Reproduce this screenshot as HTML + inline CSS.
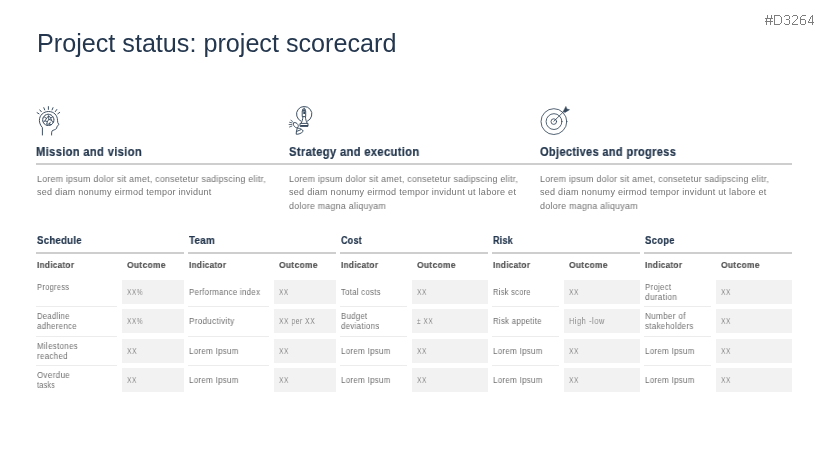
<!DOCTYPE html>
<html><head><meta charset='utf-8'><style>html,body{margin:0;padding:0;background:#fff}
body{width:829px;height:466px;position:relative;overflow:hidden;font-family:"Liberation Sans",sans-serif}
.t{position:absolute;white-space:nowrap;line-height:1;transform-origin:0 0;will-change:transform}
.rule{position:absolute;background:#cecece}
.cell{position:absolute;background:#f2f2f2}
.sep{position:absolute;background:#ececec}
svg{position:absolute;left:0;top:0}
</style></head><body>
<div class='rule' style='left:36px;top:252px;width:148px;height:2px'></div>
<div class='cell' style='left:122px;top:280px;width:62px;height:24px'></div>
<div class='sep' style='left:36px;top:306px;width:81px;height:1px'></div>
<div class='cell' style='left:122px;top:309px;width:62px;height:24px'></div>
<div class='sep' style='left:36px;top:336px;width:81px;height:1px'></div>
<div class='cell' style='left:122px;top:338.7px;width:62px;height:24px'></div>
<div class='sep' style='left:36px;top:365px;width:81px;height:1px'></div>
<div class='cell' style='left:122px;top:368.2px;width:62px;height:24px'></div>
<div class='rule' style='left:188px;top:252px;width:148px;height:2px'></div>
<div class='cell' style='left:274px;top:280px;width:62px;height:24px'></div>
<div class='sep' style='left:188px;top:306px;width:81px;height:1px'></div>
<div class='cell' style='left:274px;top:309px;width:62px;height:24px'></div>
<div class='sep' style='left:188px;top:336px;width:81px;height:1px'></div>
<div class='cell' style='left:274px;top:338.7px;width:62px;height:24px'></div>
<div class='sep' style='left:188px;top:365px;width:81px;height:1px'></div>
<div class='cell' style='left:274px;top:368.2px;width:62px;height:24px'></div>
<div class='rule' style='left:340px;top:252px;width:148px;height:2px'></div>
<div class='cell' style='left:412px;top:280px;width:76px;height:24px'></div>
<div class='sep' style='left:340px;top:306px;width:67px;height:1px'></div>
<div class='cell' style='left:412px;top:309px;width:76px;height:24px'></div>
<div class='sep' style='left:340px;top:336px;width:67px;height:1px'></div>
<div class='cell' style='left:412px;top:338.7px;width:76px;height:24px'></div>
<div class='sep' style='left:340px;top:365px;width:67px;height:1px'></div>
<div class='cell' style='left:412px;top:368.2px;width:76px;height:24px'></div>
<div class='rule' style='left:492px;top:252px;width:148px;height:2px'></div>
<div class='cell' style='left:564px;top:280px;width:76px;height:24px'></div>
<div class='sep' style='left:492px;top:306px;width:67px;height:1px'></div>
<div class='cell' style='left:564px;top:309px;width:76px;height:24px'></div>
<div class='sep' style='left:492px;top:336px;width:67px;height:1px'></div>
<div class='cell' style='left:564px;top:338.7px;width:76px;height:24px'></div>
<div class='sep' style='left:492px;top:365px;width:67px;height:1px'></div>
<div class='cell' style='left:564px;top:368.2px;width:76px;height:24px'></div>
<div class='rule' style='left:644px;top:252px;width:148px;height:2px'></div>
<div class='cell' style='left:716px;top:280px;width:76px;height:24px'></div>
<div class='sep' style='left:644px;top:306px;width:67px;height:1px'></div>
<div class='cell' style='left:716px;top:309px;width:76px;height:24px'></div>
<div class='sep' style='left:644px;top:336px;width:67px;height:1px'></div>
<div class='cell' style='left:716px;top:338.7px;width:76px;height:24px'></div>
<div class='sep' style='left:644px;top:365px;width:67px;height:1px'></div>
<div class='cell' style='left:716px;top:368.2px;width:76px;height:24px'></div>
<div class='rule' style='left:36px;top:163px;width:756px;height:2px'></div>
<div class='t' style='left:36.69px;top:31px;font-size:25px;color:#24374e;transform:scaleX(1.0065)'>Project status: project scorecard</div>
<div class='t' style='left:36.2px;top:145.7px;font-size:12.5px;color:#24374e;letter-spacing:0.35px;transform:scaleX(0.8966);font-weight:bold;-webkit-text-stroke:0.2px #24374e'>Mission and vision</div>
<div class='t' style='left:288.7px;top:145.7px;font-size:12.5px;color:#24374e;letter-spacing:0.35px;transform:scaleX(0.8986);font-weight:bold;-webkit-text-stroke:0.2px #24374e'>Strategy and execution</div>
<div class='t' style='left:540.3px;top:145.7px;font-size:12.5px;color:#24374e;letter-spacing:0.35px;transform:scaleX(0.8844);font-weight:bold;-webkit-text-stroke:0.2px #24374e'>Objectives and progress</div>
<div class='t' style='left:37.0px;top:174.5px;font-size:9.0px;color:#727272;letter-spacing:0.25px;transform:scaleX(0.9803)'>Lorem ipsum dolor sit amet, consetetur sadipscing elitr,</div>
<div class='t' style='left:37.0px;top:188.05px;font-size:9.0px;color:#727272;letter-spacing:0.25px;transform:scaleX(0.9977)'>sed diam nonumy eirmod tempor invidunt</div>
<div class='t' style='left:288.7px;top:174.5px;font-size:9.0px;color:#727272;letter-spacing:0.25px;transform:scaleX(0.9807)'>Lorem ipsum dolor sit amet, consetetur sadipscing elitr,</div>
<div class='t' style='left:288.7px;top:188.05px;font-size:9.0px;color:#727272;letter-spacing:0.25px;transform:scaleX(1.008)'>sed diam nonumy eirmod tempor invidunt ut labore et</div>
<div class='t' style='left:288.7px;top:201.6px;font-size:9.0px;color:#727272;letter-spacing:0.25px;transform:scaleX(0.9827)'>dolore magna aliquyam</div>
<div class='t' style='left:540.3px;top:174.5px;font-size:9.0px;color:#727272;letter-spacing:0.25px;transform:scaleX(0.9807)'>Lorem ipsum dolor sit amet, consetetur sadipscing elitr,</div>
<div class='t' style='left:540.3px;top:188.05px;font-size:9.0px;color:#727272;letter-spacing:0.25px;transform:scaleX(1.0053)'>sed diam nonumy eirmod tempor invidunt ut labore et</div>
<div class='t' style='left:540.3px;top:201.6px;font-size:9.0px;color:#727272;letter-spacing:0.25px;transform:scaleX(0.9918)'>dolore magna aliquyam</div>
<div class='t' style='left:36.8px;top:234.75px;font-size:11.2px;color:#24374e;letter-spacing:0.25px;transform:scaleX(0.8667);font-weight:bold;-webkit-text-stroke:0.2px #24374e'>Schedule</div>
<div class='t' style='left:37.0px;top:260.8px;font-size:9.0px;color:#505050;letter-spacing:0.3px;transform:scaleX(0.9146);font-weight:bold;-webkit-text-stroke:0.15px #505050'>Indicator</div>
<div class='t' style='left:127.4px;top:261px;font-size:9.0px;color:#505050;letter-spacing:0.3px;transform:scaleX(0.9439);font-weight:bold;-webkit-text-stroke:0.15px #505050'>Outcome</div>
<div class='t' style='left:36.9px;top:283px;font-size:8.7px;color:#6f6f6f;letter-spacing:0.35px;transform:scaleX(0.8622)'>Progress</div>
<div class='t' style='left:127.2px;top:286.9px;font-size:9.4px;color:#8a8a8a;letter-spacing:0.8px;transform:scaleX(0.7)'>XX%</div>
<div class='t' style='left:36.9px;top:312px;font-size:8.7px;color:#6f6f6f;letter-spacing:0.35px;transform:scaleX(0.8811)'>Deadline</div>
<div class='t' style='left:36.9px;top:322.2px;font-size:8.7px;color:#6f6f6f;letter-spacing:0.35px;transform:scaleX(0.9045)'>adherence</div>
<div class='t' style='left:127.2px;top:315.9px;font-size:9.4px;color:#8a8a8a;letter-spacing:0.8px;transform:scaleX(0.7)'>XX%</div>
<div class='t' style='left:36.9px;top:341.7px;font-size:8.7px;color:#6f6f6f;letter-spacing:0.35px;transform:scaleX(0.9111)'>Milestones</div>
<div class='t' style='left:36.9px;top:351.9px;font-size:8.7px;color:#6f6f6f;letter-spacing:0.35px;transform:scaleX(0.9121)'>reached</div>
<div class='t' style='left:127.2px;top:345.6px;font-size:9.4px;color:#8a8a8a;letter-spacing:0.8px;transform:scaleX(0.7231)'>XX</div>
<div class='t' style='left:36.9px;top:371.2px;font-size:8.7px;color:#6f6f6f;letter-spacing:0.35px;transform:scaleX(0.9229)'>Overdue</div>
<div class='t' style='left:36.9px;top:381.4px;font-size:8.7px;color:#6f6f6f;letter-spacing:0.35px;transform:scaleX(0.8227)'>tasks</div>
<div class='t' style='left:127.2px;top:375.1px;font-size:9.4px;color:#8a8a8a;letter-spacing:0.8px;transform:scaleX(0.7077)'>XX</div>
<div class='t' style='left:188.8px;top:234.75px;font-size:11.2px;color:#24374e;letter-spacing:0.25px;transform:scaleX(0.8793);font-weight:bold;-webkit-text-stroke:0.2px #24374e'>Team</div>
<div class='t' style='left:189.0px;top:260.8px;font-size:9.0px;color:#505050;letter-spacing:0.3px;transform:scaleX(0.9146);font-weight:bold;-webkit-text-stroke:0.15px #505050'>Indicator</div>
<div class='t' style='left:279.4px;top:261px;font-size:9.0px;color:#505050;letter-spacing:0.3px;transform:scaleX(0.9439);font-weight:bold;-webkit-text-stroke:0.15px #505050'>Outcome</div>
<div class='t' style='left:188.9px;top:288px;font-size:8.7px;color:#6f6f6f;letter-spacing:0.35px;transform:scaleX(0.9038)'>Performance index</div>
<div class='t' style='left:279.2px;top:286.9px;font-size:9.4px;color:#8a8a8a;letter-spacing:0.8px;transform:scaleX(0.6923)'>XX</div>
<div class='t' style='left:188.9px;top:317px;font-size:8.7px;color:#6f6f6f;letter-spacing:0.35px;transform:scaleX(0.9245)'>Productivity</div>
<div class='t' style='left:279.2px;top:315.9px;font-size:9.4px;color:#8a8a8a;letter-spacing:0.8px;transform:scaleX(0.71)'>XX per XX</div>
<div class='t' style='left:188.9px;top:346.7px;font-size:8.7px;color:#6f6f6f;letter-spacing:0.35px;transform:scaleX(0.9093)'>Lorem Ipsum</div>
<div class='t' style='left:279.2px;top:345.6px;font-size:9.4px;color:#8a8a8a;letter-spacing:0.8px;transform:scaleX(0.7077)'>XX</div>
<div class='t' style='left:188.9px;top:376.2px;font-size:8.7px;color:#6f6f6f;letter-spacing:0.35px;transform:scaleX(0.9093)'>Lorem Ipsum</div>
<div class='t' style='left:279.2px;top:375.1px;font-size:9.4px;color:#8a8a8a;letter-spacing:0.8px;transform:scaleX(0.7077)'>XX</div>
<div class='t' style='left:340.8px;top:234.75px;font-size:11.2px;color:#24374e;letter-spacing:0.25px;transform:scaleX(0.8038);font-weight:bold;-webkit-text-stroke:0.2px #24374e'>Cost</div>
<div class='t' style='left:341.0px;top:260.8px;font-size:9.0px;color:#505050;letter-spacing:0.3px;transform:scaleX(0.9146);font-weight:bold;-webkit-text-stroke:0.15px #505050'>Indicator</div>
<div class='t' style='left:417.4px;top:261px;font-size:9.0px;color:#505050;letter-spacing:0.3px;transform:scaleX(0.9439);font-weight:bold;-webkit-text-stroke:0.15px #505050'>Outcome</div>
<div class='t' style='left:340.9px;top:288px;font-size:8.7px;color:#6f6f6f;letter-spacing:0.35px;transform:scaleX(0.8867)'>Total costs</div>
<div class='t' style='left:417.2px;top:286.9px;font-size:9.4px;color:#8a8a8a;letter-spacing:0.8px;transform:scaleX(0.7077)'>XX</div>
<div class='t' style='left:340.9px;top:312px;font-size:8.7px;color:#6f6f6f;letter-spacing:0.35px;transform:scaleX(0.8966)'>Budget</div>
<div class='t' style='left:340.9px;top:322.2px;font-size:8.7px;color:#6f6f6f;letter-spacing:0.35px;transform:scaleX(0.9048)'>deviations</div>
<div class='t' style='left:417.2px;top:315.9px;font-size:9.4px;color:#8a8a8a;letter-spacing:0.8px;transform:scaleX(0.6913)'>± XX</div>
<div class='t' style='left:340.9px;top:346.7px;font-size:8.7px;color:#6f6f6f;letter-spacing:0.35px;transform:scaleX(0.9093)'>Lorem Ipsum</div>
<div class='t' style='left:417.2px;top:345.6px;font-size:9.4px;color:#8a8a8a;letter-spacing:0.8px;transform:scaleX(0.7077)'>XX</div>
<div class='t' style='left:340.9px;top:376.2px;font-size:8.7px;color:#6f6f6f;letter-spacing:0.35px;transform:scaleX(0.9093)'>Lorem Ipsum</div>
<div class='t' style='left:417.2px;top:375.1px;font-size:9.4px;color:#8a8a8a;letter-spacing:0.8px;transform:scaleX(0.7077)'>XX</div>
<div class='t' style='left:492.8px;top:234.75px;font-size:11.2px;color:#24374e;letter-spacing:0.25px;transform:scaleX(0.804);font-weight:bold;-webkit-text-stroke:0.2px #24374e'>Risk</div>
<div class='t' style='left:493.0px;top:260.8px;font-size:9.0px;color:#505050;letter-spacing:0.3px;transform:scaleX(0.9146);font-weight:bold;-webkit-text-stroke:0.15px #505050'>Indicator</div>
<div class='t' style='left:569.4px;top:261px;font-size:9.0px;color:#505050;letter-spacing:0.3px;transform:scaleX(0.9439);font-weight:bold;-webkit-text-stroke:0.15px #505050'>Outcome</div>
<div class='t' style='left:492.9px;top:288px;font-size:8.7px;color:#6f6f6f;letter-spacing:0.35px;transform:scaleX(0.8605)'>Risk score</div>
<div class='t' style='left:569.2px;top:286.9px;font-size:9.4px;color:#8a8a8a;letter-spacing:0.8px;transform:scaleX(0.7077)'>XX</div>
<div class='t' style='left:492.9px;top:317px;font-size:8.7px;color:#6f6f6f;letter-spacing:0.35px;transform:scaleX(0.8926)'>Risk appetite</div>
<div class='t' style='left:569.2px;top:315.9px;font-size:9.4px;color:#8a8a8a;letter-spacing:0.8px;transform:scaleX(0.7739)'>High -low</div>
<div class='t' style='left:492.9px;top:346.7px;font-size:8.7px;color:#6f6f6f;letter-spacing:0.35px;transform:scaleX(0.9093)'>Lorem Ipsum</div>
<div class='t' style='left:569.2px;top:345.6px;font-size:9.4px;color:#8a8a8a;letter-spacing:0.8px;transform:scaleX(0.7077)'>XX</div>
<div class='t' style='left:492.9px;top:376.2px;font-size:8.7px;color:#6f6f6f;letter-spacing:0.35px;transform:scaleX(0.9093)'>Lorem Ipsum</div>
<div class='t' style='left:569.2px;top:375.1px;font-size:9.4px;color:#8a8a8a;letter-spacing:0.8px;transform:scaleX(0.7077)'>XX</div>
<div class='t' style='left:644.8px;top:234.75px;font-size:11.2px;color:#24374e;letter-spacing:0.25px;transform:scaleX(0.8559);font-weight:bold;-webkit-text-stroke:0.2px #24374e'>Scope</div>
<div class='t' style='left:645.0px;top:260.8px;font-size:9.0px;color:#505050;letter-spacing:0.3px;transform:scaleX(0.9146);font-weight:bold;-webkit-text-stroke:0.15px #505050'>Indicator</div>
<div class='t' style='left:721.4px;top:261px;font-size:9.0px;color:#505050;letter-spacing:0.3px;transform:scaleX(0.9439);font-weight:bold;-webkit-text-stroke:0.15px #505050'>Outcome</div>
<div class='t' style='left:644.9px;top:283px;font-size:8.7px;color:#6f6f6f;letter-spacing:0.35px;transform:scaleX(0.8966)'>Project</div>
<div class='t' style='left:644.9px;top:293.2px;font-size:8.7px;color:#6f6f6f;letter-spacing:0.35px;transform:scaleX(0.9441)'>duration</div>
<div class='t' style='left:721.2px;top:286.9px;font-size:9.4px;color:#8a8a8a;letter-spacing:0.8px;transform:scaleX(0.7077)'>XX</div>
<div class='t' style='left:644.9px;top:312px;font-size:8.7px;color:#6f6f6f;letter-spacing:0.35px;transform:scaleX(0.9341)'>Number of</div>
<div class='t' style='left:644.9px;top:322.2px;font-size:8.7px;color:#6f6f6f;letter-spacing:0.35px;transform:scaleX(0.9094)'>stakeholders</div>
<div class='t' style='left:721.2px;top:315.9px;font-size:9.4px;color:#8a8a8a;letter-spacing:0.8px;transform:scaleX(0.7077)'>XX</div>
<div class='t' style='left:644.9px;top:346.7px;font-size:8.7px;color:#6f6f6f;letter-spacing:0.35px;transform:scaleX(0.9093)'>Lorem Ipsum</div>
<div class='t' style='left:721.2px;top:345.6px;font-size:9.4px;color:#8a8a8a;letter-spacing:0.8px;transform:scaleX(0.7077)'>XX</div>
<div class='t' style='left:644.9px;top:376.2px;font-size:8.7px;color:#6f6f6f;letter-spacing:0.35px;transform:scaleX(0.9093)'>Lorem Ipsum</div>
<div class='t' style='left:721.2px;top:375.1px;font-size:9.4px;color:#8a8a8a;letter-spacing:0.8px;transform:scaleX(0.7077)'>XX</div>
<svg width="829" height="466" viewBox="0 0 829 466" fill="none" stroke="#34475b" stroke-width="1.1" stroke-linecap="round" stroke-linejoin="round">
<!-- head icon -->
<g stroke-width="0.95">
<path d="M48.4,106.6 V109.4 M43.8,107.7 L44.7,109.9 M39.8,109.9 L41.3,111.7 M37.1,112.7 L39,113.8 M53,107.7 L52.1,109.9 M56.8,109.5 L55.3,111.6 M59.7,112.4 L57.8,113.8"/>
<path d="M42.4,135 V127.6 C40.3,125.2 39.4,122.6 39.4,120.4 C39.4,115.3 43.5,111.5 48.6,111.5 C53.9,111.5 57.5,115.3 57.5,120.3 L57.8,122.6 L58.9,124.6 L57.1,126.3 L56.5,128.5 C55.2,129.9 53.2,130 52.1,130.9 C51.5,131.8 51.6,133.6 51.6,135"/>
<circle cx="48.3" cy="119.9" r="5.6" stroke-dasharray="1.1 0.45"/>
<path d="M44.3,116.9 L46.5,118.4 L48.6,115.8 L50.6,117.8 L52.6,116.9 M46.5,118.4 L44.9,120.9 L47.4,121.6 L48.8,119.4 L51.5,120.2 L52.9,122.4 M47.4,121.6 L46.6,124.2 L49.2,124.1 L50.3,122.2 M43.4,122.3 L44.9,120.9 M49.2,124.1 L51.6,124.6 M48.6,115.8 L48.8,119.4 M51.5,120.2 L50.6,117.8" stroke-width="0.9"/>
</g>
<!-- strategy icon -->
<g stroke-width="0.95">
<path d="M301,121.2 A7.7,7.7 0 1 1 307.4,121.2"/>
<path d="M304.15,107.9 V108.9 M303.1,109.1 H305.2 V110.8 H303.1 Z M302.6,110.8 H305.7 V116.6 H302.6 Z M302.9,117 C302.7,119.4 302.1,121.3 301.3,122.9 M305.4,117 C305.6,119.4 306.2,121.3 307,122.9"/>
<rect x="303.3" y="111.7" width="1.8" height="2.3" fill="#34475b" stroke="none"/>
<path d="M300.4,123.4 H308 V126.3 H300.4 Z"/>
<rect x="300.4" y="125" width="7.6" height="1.5" fill="#34475b" stroke="none"/>
<path d="M293.8,122.8 C295.3,122 296.8,123 297.8,124.4 C298.6,125.6 298.4,127.3 297.4,127.7 C296.2,128.1 294.5,126.9 293.8,125.6 C293.2,124.5 293.2,123.3 293.8,122.8 Z"/>
<path d="M297.3,128 L296.4,131.6 L296.2,134.2 C298.2,134.6 301.8,133.2 303.2,131.2 C302.8,129.6 300.3,128.4 297.8,128 M296.5,131.5 L300.8,129.7"/>
<path d="M290.9,120.3 L292.5,121.4 M289.6,122.3 L292.1,122.9 M289.1,124.5 L291.9,124.6 M289.5,127 L291.9,126.1" stroke-width="0.8"/>
</g>
<!-- target icon -->
<g stroke-width="0.85">
<circle cx="553.9" cy="121.6" r="12.9"/>
<circle cx="554" cy="121.6" r="7.9"/>
<circle cx="553.8" cy="121.6" r="2.8"/>
<path d="M553.8,121.3 L564.8,110.5"/>
<path d="M563.4,111.2 L565.9,106.4 L566.9,109 L569.5,109.7 L565.1,112.4 Z" fill="#34475b" stroke-width="0.5"/>
</g>
</svg>
<svg width="829" height="466" style="position:absolute;left:0;top:0" shape-rendering="crispEdges"><path d="M765,18h1v1h-1zM765,21h1v1h-1zM766,18h1v1h-1zM766,19h1v1h-1zM766,20h1v1h-1zM766,21h1v1h-1zM766,22h1v1h-1zM766,23h1v1h-1zM766,24h1v1h-1zM767,15h1v1h-1zM767,16h1v1h-1zM767,17h1v1h-1zM767,18h1v1h-1zM767,21h1v1h-1zM768,18h1v1h-1zM768,21h1v1h-1zM769,18h1v1h-1zM769,21h1v1h-1zM770,18h1v1h-1zM770,19h1v1h-1zM770,20h1v1h-1zM770,21h1v1h-1zM770,22h1v1h-1zM770,23h1v1h-1zM770,24h1v1h-1zM771,15h1v1h-1zM771,16h1v1h-1zM771,17h1v1h-1zM771,18h1v1h-1zM771,21h1v1h-1zM772,18h1v1h-1zM772,21h1v1h-1zM774,15h1v1h-1zM774,16h1v1h-1zM774,17h1v1h-1zM774,18h1v1h-1zM774,19h1v1h-1zM774,20h1v1h-1zM774,21h1v1h-1zM774,22h1v1h-1zM774,23h1v1h-1zM774,24h1v1h-1zM775,15h1v1h-1zM775,24h1v1h-1zM776,15h1v1h-1zM776,24h1v1h-1zM777,15h1v1h-1zM777,24h1v1h-1zM778,15h1v1h-1zM778,24h1v1h-1zM779,15h1v1h-1zM779,24h1v1h-1zM780,16h1v1h-1zM780,23h1v1h-1zM781,17h1v1h-1zM781,18h1v1h-1zM781,19h1v1h-1zM781,20h1v1h-1zM781,21h1v1h-1zM781,22h1v1h-1zM784,16h1v1h-1zM784,23h1v1h-1zM785,15h1v1h-1zM785,24h1v1h-1zM786,15h1v1h-1zM786,19h1v1h-1zM786,24h1v1h-1zM787,15h1v1h-1zM787,19h1v1h-1zM787,24h1v1h-1zM788,15h1v1h-1zM788,19h1v1h-1zM788,24h1v1h-1zM789,16h1v1h-1zM789,17h1v1h-1zM789,18h1v1h-1zM789,20h1v1h-1zM789,21h1v1h-1zM789,22h1v1h-1zM789,23h1v1h-1zM792,16h1v1h-1zM792,23h1v1h-1zM792,24h1v1h-1zM793,15h1v1h-1zM793,22h1v1h-1zM793,24h1v1h-1zM794,15h1v1h-1zM794,21h1v1h-1zM794,24h1v1h-1zM795,15h1v1h-1zM795,20h1v1h-1zM795,24h1v1h-1zM796,15h1v1h-1zM796,19h1v1h-1zM796,24h1v1h-1zM797,16h1v1h-1zM797,17h1v1h-1zM797,18h1v1h-1zM797,24h1v1h-1zM800,17h1v1h-1zM800,18h1v1h-1zM800,19h1v1h-1zM800,20h1v1h-1zM800,21h1v1h-1zM800,22h1v1h-1zM800,23h1v1h-1zM801,16h1v1h-1zM801,19h1v1h-1zM801,24h1v1h-1zM802,15h1v1h-1zM802,19h1v1h-1zM802,24h1v1h-1zM803,15h1v1h-1zM803,19h1v1h-1zM803,24h1v1h-1zM804,15h1v1h-1zM804,19h1v1h-1zM804,24h1v1h-1zM805,15h1v1h-1zM805,20h1v1h-1zM805,21h1v1h-1zM805,22h1v1h-1zM805,23h1v1h-1zM808,21h1v1h-1zM808,22h1v1h-1zM809,19h1v1h-1zM809,20h1v1h-1zM809,22h1v1h-1zM810,17h1v1h-1zM810,18h1v1h-1zM810,22h1v1h-1zM811,16h1v1h-1zM811,22h1v1h-1zM812,15h1v1h-1zM812,16h1v1h-1zM812,17h1v1h-1zM812,18h1v1h-1zM812,19h1v1h-1zM812,20h1v1h-1zM812,21h1v1h-1zM812,22h1v1h-1zM812,23h1v1h-1zM812,24h1v1h-1zM813,22h1v1h-1z" fill="#7d7d7d"/></svg>
</body></html>
